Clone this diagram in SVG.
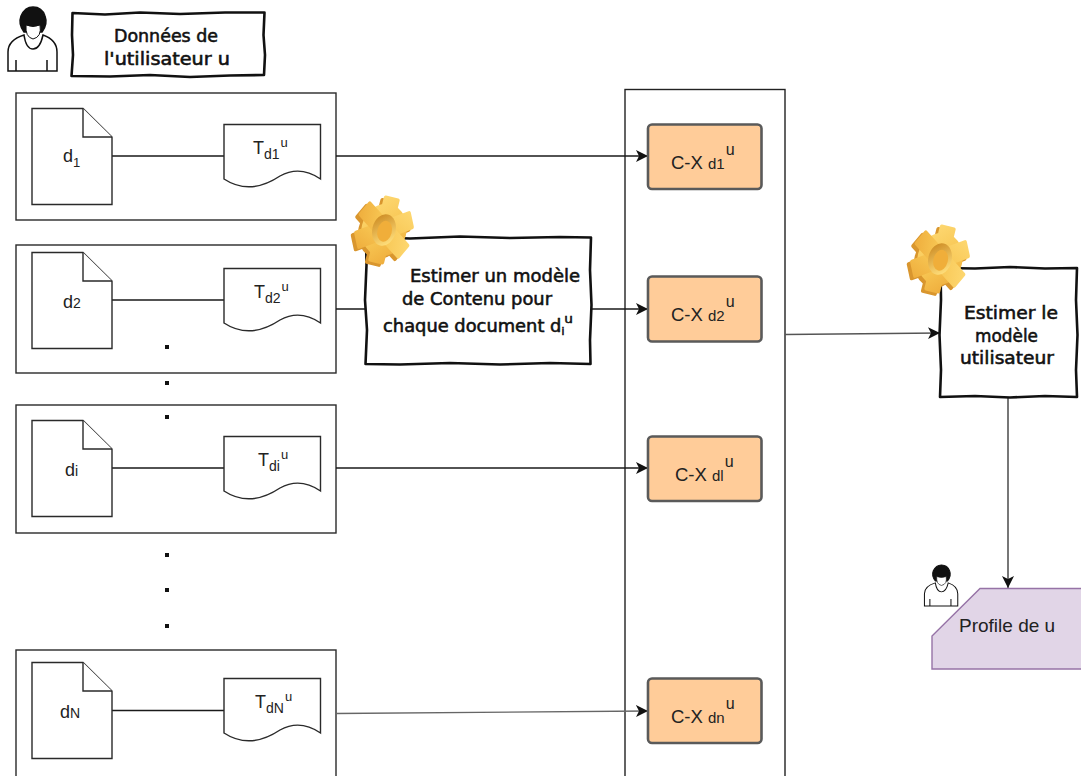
<svg xmlns="http://www.w3.org/2000/svg" width="1081" height="776" viewBox="0 0 1081 776">
<style>
text{font-family:"Liberation Sans",Arial,sans-serif;fill:#222}
.c{font-family:"DejaVu Sans",sans-serif;font-size:17px;font-weight:400;fill:#111;stroke:#111;stroke-width:.55px}
.b{fill:#fff;stroke:#2a2a2a;stroke-width:1.4}
.s{fill:#fff;stroke:#111;stroke-width:2.6;stroke-linejoin:round}
.o{fill:#ffcc99;stroke:#5a5a5a;stroke-width:2.6}
.l{fill:none;stroke:#1a1a1a;stroke-width:1.3}
.cx{font-size:18.500px}.m{font-size:15px}.n{font-size:13px}.v{font-size:16px}
.tt{font-size:18px}.ts{font-size:14px}
.dd{font-size:18px}
.dot{fill:#111}
</style>
<defs>
<marker id="ah" markerUnits="userSpaceOnUse" markerWidth="13" markerHeight="13" refX="12" refY="6.500" orient="auto"><path d="M0 .5 L12 6.500 L0 12.500 L3 6.500Z" fill="#111"/></marker>
<linearGradient id="g" gradientUnits="userSpaceOnUse" x1="-25" y1="-30" x2="25" y2="30"><stop offset="0" stop-color="#ffdc78"/><stop offset=".55" stop-color="#f7c552"/><stop offset="1" stop-color="#eca636"/></linearGradient>
<linearGradient id="h" gradientUnits="userSpaceOnUse" x1="-9" y1="-12" x2="9" y2="12"><stop offset="0" stop-color="#cf8f27"/><stop offset="1" stop-color="#ffdf7c"/></linearGradient>
<g id="gear"><g transform="translate(32 36) rotate(14) scale(.9 1.060)">
<g fill="#d9962e"><circle cx="-3" cy="3" r="25"/><rect x="-12" y="-29" width="18" height="64" rx="2"/><rect x="-12" y="-29" width="18" height="64" rx="2" transform="rotate(60 -3 3)"/><rect x="-12" y="-29" width="18" height="64" rx="2" transform="rotate(120 -3 3)"/></g>
<g fill="url(#g)"><circle r="25"/><rect x="-9" y="-32" width="18" height="64" rx="2"/><rect x="-9" y="-32" width="18" height="64" rx="2" transform="rotate(60)"/><rect x="-9" y="-32" width="18" height="64" rx="2" transform="rotate(120)"/></g>
<ellipse rx="13" ry="15" fill="url(#h)"/><ellipse cx="1" cy="1" rx="8" ry="10" fill="#f0ae3a"/></g></g>
<g id="person" fill="#fff" stroke="#111" stroke-width="1.5">
<path d="M8 71V52Q8 40 24 35Q26 49 33 49Q40 49 43 35Q57 40 57 52V71Z"/>
<path d="M16 60V71M47 60V71" fill="none"/>
<path d="M24 32Q18 24 21 16Q25 7 33 7Q42 7 45 16Q48 24 42 32Z" fill="#111"/>
<path d="M26 25Q33 28 40 25Q42 37 33 39Q25 37 26 25Z" stroke-width="1"/>
</g>
</defs>

<g id="container"><rect x="625" y="89.500" width="160" height="700" fill="#fff" stroke="#222" stroke-width="1.4"/></g>

<g id="row1"><rect class="b" x="16" y="93" width="320" height="127"/></g>
<g id="row2"><rect class="b" x="16" y="245" width="320" height="128"/></g>
<g id="row3"><rect class="b" x="16" y="405" width="320" height="128"/></g>
<g id="row4"><rect class="b" x="16" y="650" width="320" height="140"/></g>

<g id="connectors">
<path class="l" d="M112 156H224M112 300H224M112 468H224M112 710.500H224M336 309H365"/>
<path class="l" d="M336 156H648" marker-end="url(#ah)"/>
<path class="l" d="M591 309H648" marker-end="url(#ah)"/>
<path class="l" d="M336 468H648" marker-end="url(#ah)"/>
<path class="l" d="M336 713.500L648 711" style="stroke:#666" marker-end="url(#ah)"/>
<path class="l" style="stroke:#555" d="M785 334.500L940 333" marker-end="url(#ah)"/>
<path d="M1008 398V588" fill="none" stroke="#777" stroke-width="2" marker-end="url(#ah)"/>
</g>

<g id="doc1"><path class="b" d="M32 108.500H83L112 137V204.500H32Z"/><path class="b" d="M83 108.500V137H112"/><text class="dd" x="63" y="162">d<tspan style="font-size:13px" dy="5">1</tspan></text></g>
<g id="doc2"><path class="b" d="M32 252.500H83L112 281V348.500H32Z"/><path class="b" d="M83 252.500V281H112"/><text class="dd" x="63" y="308">d<tspan style="font-size:14px">2</tspan></text></g>
<g id="doc3"><path class="b" d="M32 420.500H83L112 449V516.500H32Z"/><path class="b" d="M83 420.500V449H112"/><text class="dd" x="65" y="476">d<tspan style="font-size:14px">i</tspan></text></g>
<g id="doc4"><path class="b" d="M32 662.500H83L112 691V758.500H32Z"/><path class="b" d="M83 662.500V691H112"/><text class="dd" x="60" y="718">d<tspan style="font-size:14px">N</tspan></text></g>

<g id="tape1"><path class="b" d="M224 124.500H320.500V179Q300 165 280 176Q250 196 224 179Z"/><text class="tt" x="253" y="154">T<tspan class="ts" dy="5">d1</tspan><tspan class="n" dy="-12" dx="1">u</tspan></text></g>
<g id="tape2"><path class="b" d="M224 268.500H320.500V323Q300 309 280 320Q250 340 224 323Z"/><text class="tt" x="254" y="298">T<tspan class="ts" dy="5">d2</tspan><tspan class="n" dy="-12" dx="1">u</tspan></text></g>
<g id="tape3"><path class="b" d="M224 436.500H320.500V491Q300 477 280 488Q250 508 224 491Z"/><text class="tt" x="258" y="466">T<tspan class="ts" dy="5">di</tspan><tspan class="n" dy="-12" dx="1">u</tspan></text></g>
<g id="tape4"><path class="b" d="M224 678.500H320.500V733Q300 719 280 730Q250 750 224 733Z"/><text class="tt" x="255" y="708">T<tspan class="ts" dy="5">dN</tspan><tspan class="n" dy="-12" dx="1">u</tspan></text></g>

<g id="dots" class="dot">
<rect x="165" y="345" width="4" height="4"/><rect x="165" y="381" width="4" height="4"/><rect x="165" y="415" width="4" height="4"/>
<rect x="165" y="553" width="4" height="4"/><rect x="165" y="588" width="4" height="4"/><rect x="165" y="624" width="4" height="4"/>
</g>

<g id="cx1"><rect class="o" x="648" y="124.500" width="113.500" height="64.500" rx="4"/><text class="cx" x="671" y="169">C-X <tspan class="m">d1</tspan><tspan class="v" dy="-14" dx="1">u</tspan></text></g>
<g id="cx2"><rect class="o" x="648" y="276.500" width="113.500" height="65" rx="4"/><text class="cx" x="671" y="321">C-X <tspan class="m">d2</tspan><tspan class="v" dy="-14" dx="1">u</tspan></text></g>
<g id="cx3"><rect class="o" x="648" y="436.500" width="113.500" height="64.500" rx="4"/><text class="cx" x="675" y="481">C-X <tspan class="m">dl</tspan><tspan class="v" dy="-14" dx="1">u</tspan></text></g>
<g id="cx4"><rect class="o" x="648" y="678.500" width="113.500" height="64.500" rx="4"/><text class="cx" x="671" y="723">C-X <tspan class="m">dn</tspan><tspan class="v" dy="-14" dx="1">u</tspan></text></g>

<g id="header">
<use href="#person"/>
<path class="s" d="M72.500 13L105 14.500L140 12.500L180 14L225 12.500L264.500 12.500L263.500 35L265 55L264 75L230 75.500L190 77L150 75L110 76.500L71.500 76L73 55L72 35Z"/>
<text class="c" x="114" y="42" textLength="104" lengthAdjust="spacingAndGlyphs">Données de</text>
<text class="c" x="104" y="65" textLength="126" lengthAdjust="spacingAndGlyphs">l'utilisateur u</text>
</g>

<g id="estimate-content">
<path class="s" d="M366 237L410 238.500L460 236.500L510 238L560 237L591 237.500L590 270L591.500 305L590 340L590.500 364L550 363L500 364.500L450 363L400 364.500L365.500 364L367 330L365 300L366.500 265Z"/>
<use href="#gear" x="352" y="194"/>
<text class="c" x="410" y="282" textLength="170" lengthAdjust="spacingAndGlyphs">Estimer un modèle</text>
<text class="c" x="402" y="305" textLength="150" lengthAdjust="spacingAndGlyphs">de Contenu pour</text>
<text class="c" x="383" y="332" textLength="190" lengthAdjust="spacingAndGlyphs">chaque document d<tspan style="font-size:10px" dy="3">i</tspan><tspan style="font-size:13px" dy="-12">u</tspan></text>
</g>

<g id="estimate-user">
<path class="s" d="M940.500 268L975 268.500L1010 267L1045 268.500L1077 268L1076 300L1077.500 335L1076 370L1077 397L1045 396L1010 397.500L975 396L940 397L941 370L939.500 335L941 300Z"/>
<use href="#gear" x="908" y="223"/>
<text class="c" x="964" y="319" textLength="94" lengthAdjust="spacingAndGlyphs">Estimer le</text>
<text class="c" x="975" y="342" textLength="63" lengthAdjust="spacingAndGlyphs">modèle</text>
<text class="c" x="960" y="364" textLength="94" lengthAdjust="spacingAndGlyphs">utilisateur</text>
</g>

<g id="profile">
<use href="#person" transform="translate(919 560.500) scale(.68 .64)"/>
<path d="M980 588.500H1090V669H932V636Z" fill="#e1d5e7" stroke="#9673a6" stroke-width="1.4"/>
<text x="959" y="632" style="font-size:19px">Profile de u</text>
</g>
</svg>
